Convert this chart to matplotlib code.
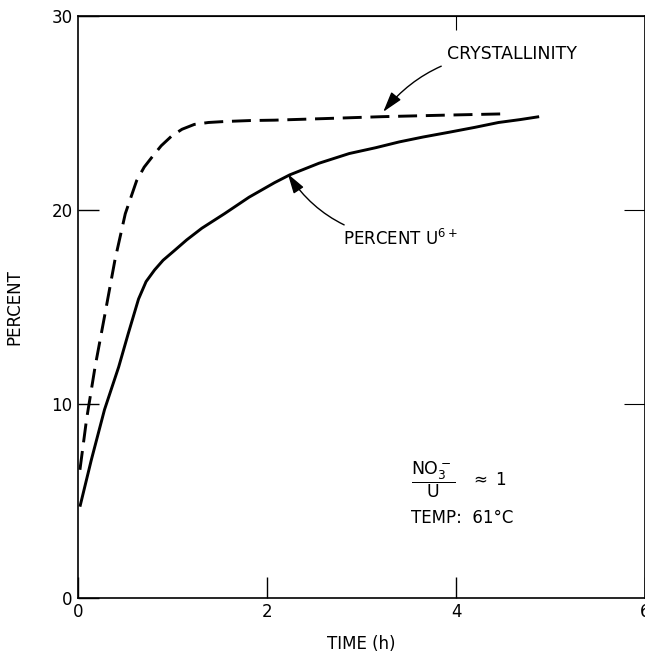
import numpy as np
from matplotlib import pyplot as plt

# values
time_u6 = [0.02, 0.14, 0.28, 0.43, 0.53, 0.64, 0.72, 0.81, 0.9, 1.02, 1.15, 1.31, 1.55, 1.81, 2.08, 2.24,
           2.55, 2.87, 3.15, 3.40, 3.65, 3.93, 4.2, 4.45, 4.68, 4.88]
pct_u6 = [4.7, 7.1, 9.7, 11.9, 13.6, 15.4, 16.3, 16.9, 17.4, 17.9, 18.45, 19.05, 19.8, 20.65, 21.4, 21.8,
          22.4, 22.9, 23.2, 23.5, 23.75, 24.0, 24.25, 24.5, 24.65, 24.8]

time_cr = [0.02, 0.09, 0.18, 0.28, 0.39, 0.50, 0.62, 0.70, 0.78, 0.88, 0.99, 1.1, 1.23, 1.38, 1.55, 1.82,
           2.08, 2.6, 3.22, 3.9, 4.56]
pct_cr = [6.6, 9.2, 11.9, 14.5, 17.4, 19.8, 21.5, 22.2, 22.7, 23.3, 23.8, 24.15, 24.4, 24.5, 24.55, 24.6,
          24.62, 24.7, 24.8, 24.88, 24.95]

xticks = [0, 2, 4, 6]
yticks = [0, 10, 20, 30]

plt.rcParams['font.family'] = ['DejaVu Sans']
fig = plt.figure(figsize=(6.45, 6.57), dpi=100)
ax = fig.add_axes([0.121, 0.09, 0.879, 0.886])

ax.plot(time_u6, pct_u6, color='black', lw=2.1, solid_capstyle='butt', solid_joinstyle='round')
ax.plot(time_cr, pct_cr, color='black', lw=2.1, linestyle=(0, (6.5, 3.0)))

ax.set_xlim(0, 6)
ax.set_ylim(0, 30)
ax.set_xticks(xticks)
ax.set_yticks(yticks)
ax.tick_params(direction='in', length=15, width=1, labelsize=12, pad=4)
for s in ax.spines.values():
    s.set_linewidth(1.2)

top = ax.secondary_xaxis('top')
top.set_xticks([4])
top.set_xticklabels([''])
top.tick_params(direction='in', length=10)
right = ax.secondary_yaxis('right')
right.set_yticks([10, 20])
right.set_yticklabels(['', ''])
right.tick_params(direction='in', length=15)

ax.set_xlabel('TIME (h)', fontsize=12, labelpad=10)
ax.set_ylabel('PERCENT', fontsize=12, labelpad=20)

arrow = dict(arrowstyle='-|>,head_length=1.0,head_width=0.3', color='black', lw=1,
             shrinkA=2, shrinkB=0)
ax.annotate('CRYSTALLINITY', xy=(3.23, 25.05), xytext=(3.9, 28.05),
            fontsize=12.5, va='center', ha='left',
            arrowprops=dict(arrow, connectionstyle='arc3,rad=0.25'))
ax.annotate('PERCENT U$^{6+}$', xy=(2.22, 21.85), xytext=(2.8, 18.5),
            fontsize=12, va='center', ha='left',
            arrowprops=dict(arrow, connectionstyle='arc3,rad=-0.25'))

ax.text(3.52, 6.1, r'$\dfrac{\mathrm{NO_3^-}}{\mathrm{U}}$', fontsize=12.5, ha='left', va='center')
ax.text(4.15, 6.1, r'$\approx$ 1', fontsize=12, ha='left', va='center')
ax.text(3.52, 4.1, 'TEMP:  61°C', fontsize=12, ha='left', va='center')

plt.savefig('out.png', dpi=100)
